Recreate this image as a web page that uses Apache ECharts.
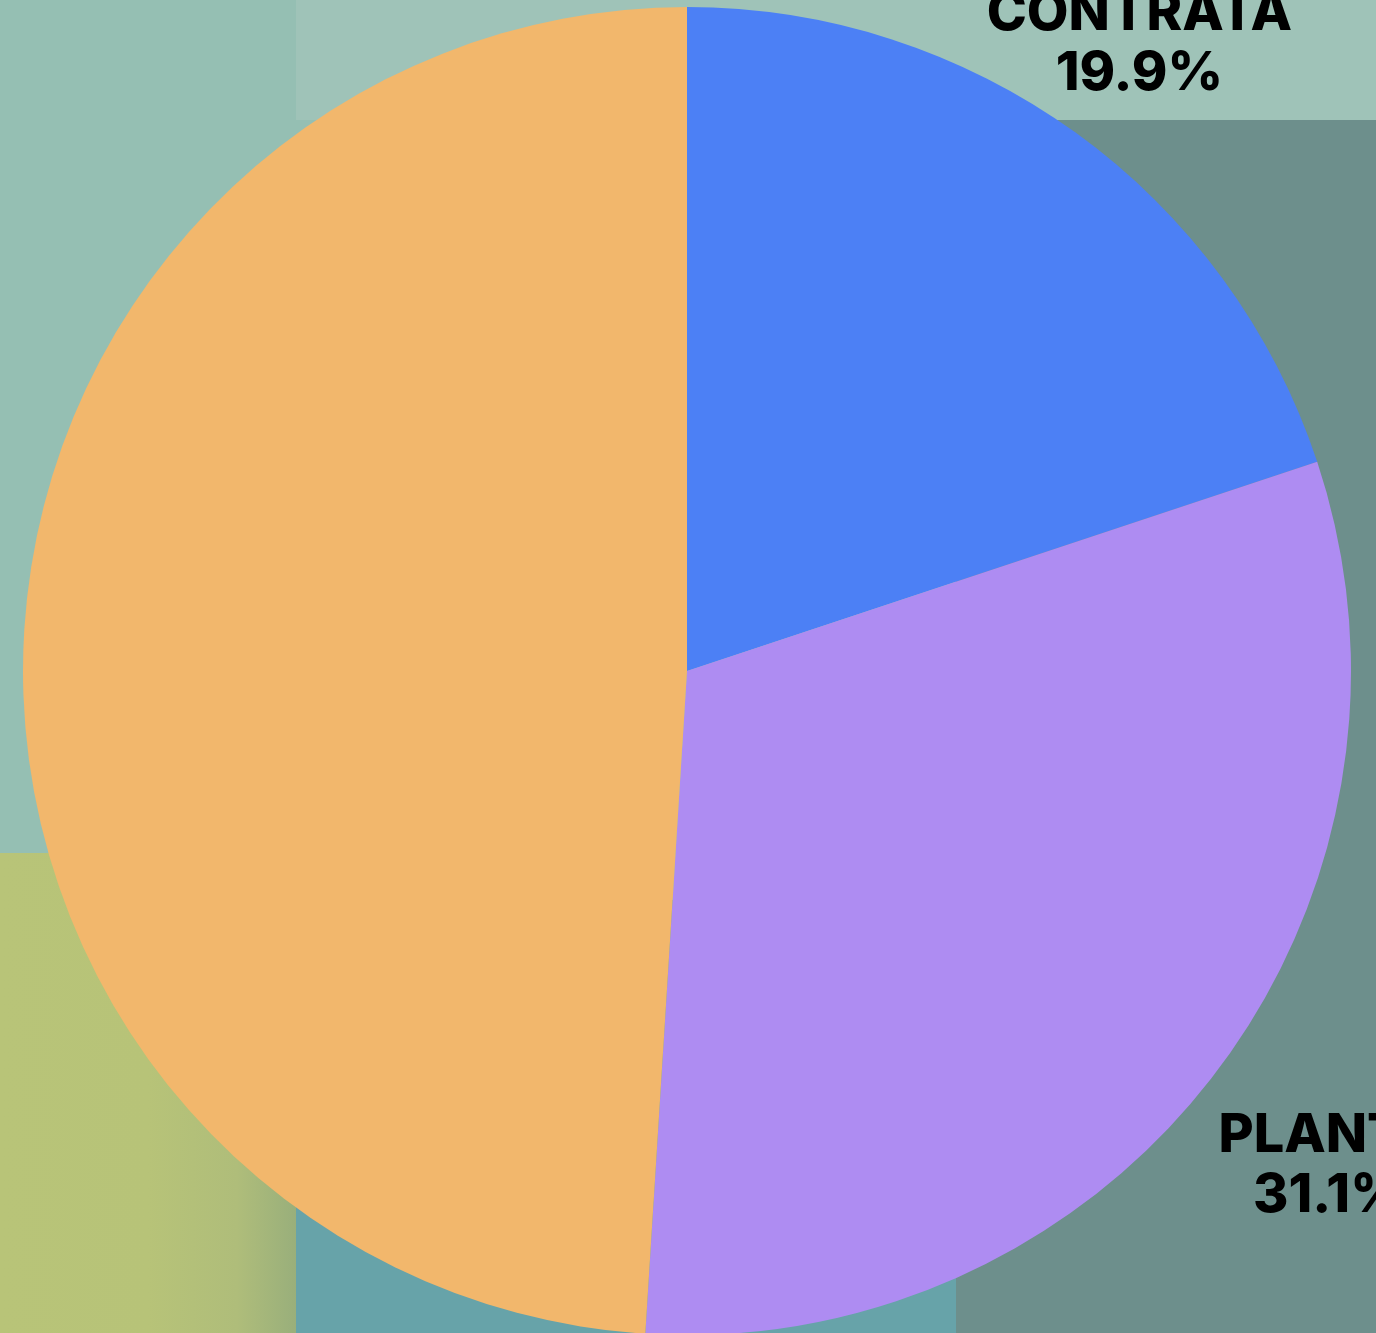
<!DOCTYPE html>
<html>
<head>
<meta charset="utf-8">
<script src="https://cdn.jsdelivr.net/npm/echarts@6/dist/echarts.min.js"></script>
<style>
html,body{margin:0;padding:0;background:#95bfb3;}
#chart{width:1376px;height:1333px;}
</style>
</head>
<body>
<div id="chart"></div>
<script>
// ---- data ----
const categories = ['CONTRATA', 'PLANTA', 'HONORARIOS'];
const shares = [19.9, 31.1, 49.0];
const sliceColors = ['#4c80f5', '#ae8cf2', '#f2b76c'];

// ---- layout / style config ----
const CX = 687, CY = 671, R = 664;
const labelDist = [773, 811, 800];

const chart = echarts.init(document.getElementById('chart'), null, {renderer: 'canvas'});
const total = shares.reduce((a, b) => a + b, 0);

const option = {
  animation: false,
  backgroundColor: '#95bfb3',
  graphic: {
    elements: [
      {type: 'rect', z: 0, shape: {x: 0, y: 0, width: 296, height: 853}, style: {fill: '#95bfb3'}},
      {type: 'rect', z: 0, shape: {x: 296, y: 0, width: 1080, height: 120}, style: {fill: '#9fc3b8'}},
      {type: 'rect', z: 0, shape: {x: 296, y: 900, width: 660, height: 433}, style: {fill: '#67a3a9'}},
      {type: 'rect', z: 0, shape: {x: 956, y: 120, width: 420, height: 1213}, style: {fill: '#6d8f8c'}},
      {type: 'rect', z: 0, shape: {x: 0, y: 853, width: 296, height: 480}, style: {
        fill: {type: 'linear', x: 0, y: 0, x2: 1, y2: 0, colorStops: [
          {offset: 0, color: '#b8c478'}, {offset: 0.5, color: '#b7c378'},
          {offset: 0.8, color: '#afbd7a'}, {offset: 1, color: '#99af7b'}]}
      }}
    ]
  },
  series: [{
    type: 'pie',
    z: 5,
    center: [CX, CY],
    radius: [0, R],
    startAngle: 90,
    clockwise: true,
    avoidLabelOverlap: false,
    itemStyle: {borderWidth: 0},
    label: {
      show: true,
      position: 'outside',
      formatter: p => p.name + '\n' + p.value.toFixed(1) + '%',
      color: '#000',
      fontFamily: 'Inter',
      fontWeight: 800,
      fontSize: 54,
      lineHeight: 60
    },
    labelLine: {show: false},
    labelLayout: function (params) {
      const i = params.dataIndex;
      let before = 0;
      for (let k = 0; k < i; k++) before += shares[k];
      const midFrac = (before + shares[i] / 2) / total;
      const ang = (90 - midFrac * 360) * Math.PI / 180;
      const d = labelDist[i];
      const x = CX + d * Math.cos(ang);
      const y = CY - d * Math.sin(ang);
      return {x: x, y: y, align: Math.cos(ang) < -0.3 ? 'right' : 'center', verticalAlign: 'middle'};
    },
    emphasis: {disabled: true},
    data: categories.map((c, i) => ({name: c, value: shares[i], itemStyle: {color: sliceColors[i]}}))
  }]
};
chart.setOption(option);
</script>
</body>
</html>
